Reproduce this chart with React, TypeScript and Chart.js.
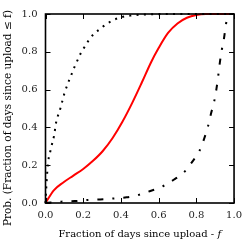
import { useEffect, useRef } from "react";
import { Chart, registerables } from "chart.js";

Chart.register(...registerables);

const solidX = [0, 0.044, 0.096, 0.148, 0.2, 0.252, 0.304, 0.356, 0.408, 0.46, 0.512, 0.56, 0.6, 0.65, 0.7, 0.75, 0.8, 0.85, 1];
const solidY = [0, 0.067, 0.11, 0.145, 0.18, 0.223, 0.275, 0.344, 0.43, 0.53, 0.64, 0.745, 0.82, 0.9, 0.95, 0.98, 0.995, 1, 1];

const dottedX = [0, 0.004, 0.009, 0.017, 0.026, 0.035, 0.045, 0.057, 0.068, 0.08, 0.09, 0.1, 0.113, 0.127, 0.142, 0.156, 0.172, 0.189, 0.21, 0.23, 0.255, 0.286, 0.318, 0.35, 0.385, 0.45, 0.55, 0.7, 1];
const dottedY = [0, 0.08, 0.16, 0.237, 0.275, 0.314, 0.354, 0.43, 0.468, 0.504, 0.542, 0.579, 0.617, 0.654, 0.69, 0.725, 0.76, 0.796, 0.83, 0.862, 0.893, 0.918, 0.943, 0.962, 0.978, 0.992, 0.998, 1, 1];

const dashDotX = [0, 0.083, 0.155, 0.22, 0.29, 0.36, 0.43, 0.494, 0.56, 0.625, 0.68, 0.738, 0.778, 0.816, 0.842, 0.862, 0.877, 0.895, 0.907, 0.916, 0.925, 0.935, 0.947, 0.957, 0.968, 0.98, 1];
const dashDotY = [0, 0.007, 0.01, 0.016, 0.019, 0.024, 0.03, 0.043, 0.065, 0.09, 0.123, 0.166, 0.218, 0.275, 0.342, 0.406, 0.47, 0.539, 0.606, 0.672, 0.746, 0.81, 0.873, 0.945, 0.99, 1, 1];

const xTitleMain = "Fraction of days since upload - ";
const xTitleVar = "f";
const yTitleText = "Prob. (Fraction of days since upload \u2264 f)";

const FONT = '"DejaVu Serif"';

const toPoints = (xs: number[], ys: number[]) => xs.map((x, i) => ({ x, y: ys[i] }));

const framePlugin = {
  id: "frameTicksTitles",
  afterDatasetsDraw(chart: any) {
    const { ctx, chartArea: a, scales } = chart;
    ctx.save();
    ctx.strokeStyle = "#000";
    ctx.lineWidth = 1;
    const L = 5;
    ctx.beginPath();
    scales.x.ticks.forEach((t: any) => {
      const px = Math.round(scales.x.getPixelForValue(t.value)) + 0.5;
      ctx.moveTo(px, a.bottom);
      ctx.lineTo(px, a.bottom - L);
      ctx.moveTo(px, a.top);
      ctx.lineTo(px, a.top + L);
    });
    scales.y.ticks.forEach((t: any) => {
      const py = Math.round(scales.y.getPixelForValue(t.value)) + 0.5;
      ctx.moveTo(a.left, py);
      ctx.lineTo(a.left + L, py);
      ctx.moveTo(a.right, py);
      ctx.lineTo(a.right - L, py);
    });
    ctx.stroke();
    ctx.lineWidth = 1.6;
    ctx.strokeRect(a.left, a.top, a.right - a.left, a.bottom - a.top);

    // titles
    ctx.fillStyle = "#000";
    ctx.textBaseline = "alphabetic";
    ctx.textAlign = "left";
    const normal = `10px ${FONT}`;
    const italic = `italic 10px ${FONT}`;
    ctx.font = normal;
    const w1 = ctx.measureText(xTitleMain).width;
    ctx.font = italic;
    const w2 = ctx.measureText(xTitleVar).width;
    const cx = (a.left + a.right) / 2;
    const sx = cx - (w1 + w2) / 2;
    ctx.font = normal;
    ctx.fillText(xTitleMain, sx, 236.5);
    ctx.font = italic;
    ctx.fillText(xTitleVar, sx + w1, 236.5);

    ctx.translate(10.5, 118);
    ctx.rotate(-Math.PI / 2);
    ctx.font = `10.5px ${FONT}`;
    ctx.textAlign = "center";
    ctx.fillText(yTitleText, 0, 0);
    ctx.restore();
  },
};

export default function App() {
  const ref = useRef<HTMLCanvasElement>(null);
  useEffect(() => {
    if (!ref.current) return;
    const chart = new Chart(ref.current, {
      type: "line",
      data: {
        datasets: [
          {
            data: toPoints(dottedX, dottedY),
            borderColor: "#000",
            borderWidth: 2,
            borderDash: [2, 5.3],
            borderCapStyle: "butt",
            pointRadius: 0,
            cubicInterpolationMode: "monotone",
            fill: false,
            clip: false,
          },
          {
            data: toPoints(dashDotX, dashDotY),
            borderColor: "#000",
            borderWidth: 2,
            borderDash: [6, 9, 2, 9],
            borderCapStyle: "butt",
            pointRadius: 0,
            cubicInterpolationMode: "monotone",
            fill: false,
            clip: false,
          },
          {
            data: toPoints(solidX, solidY),
            borderColor: "#ff0000",
            borderWidth: 2,
            pointRadius: 0,
            cubicInterpolationMode: "monotone",
            fill: false,
            clip: false,
          },
        ],
      },
      options: {
        animation: false,
        responsive: false,
        maintainAspectRatio: false,
        layout: { padding: { left: 0, right: 10.5, top: 10, bottom: 0 } },
        plugins: {
          legend: { display: false },
          tooltip: { enabled: false },
        },
        scales: {
          x: {
            type: "linear",
            min: 0,
            max: 1,
            grid: { display: false, drawTicks: false },
            border: { display: false },
            ticks: {
              stepSize: 0.2,
              padding: 6,
              color: "#222",
              font: { family: FONT, size: 10 },
              maxRotation: 0,
              callback: (v: any) => Number(v).toFixed(1),
            },
            afterFit: (s: any) => {
              s.height = 37;
            },
          },
          y: {
            type: "linear",
            min: 0,
            max: 1,
            grid: { display: false, drawTicks: false },
            border: { display: false },
            ticks: {
              stepSize: 0.2,
              padding: 8,
              color: "#222",
              font: { family: FONT, size: 10 },
              callback: (v: any) => Number(v).toFixed(1),
            },
            afterFit: (s: any) => {
              s.width = 45.5;
            },
          },
        },
      },
      plugins: [framePlugin],
    });
    return () => chart.destroy();
  }, []);
  return (
    <div style={{ position: "fixed", left: 0, top: 0, width: 248, height: 240, background: "#fff" }}>
      <canvas ref={ref} width={248} height={240} />
    </div>
  );
}
